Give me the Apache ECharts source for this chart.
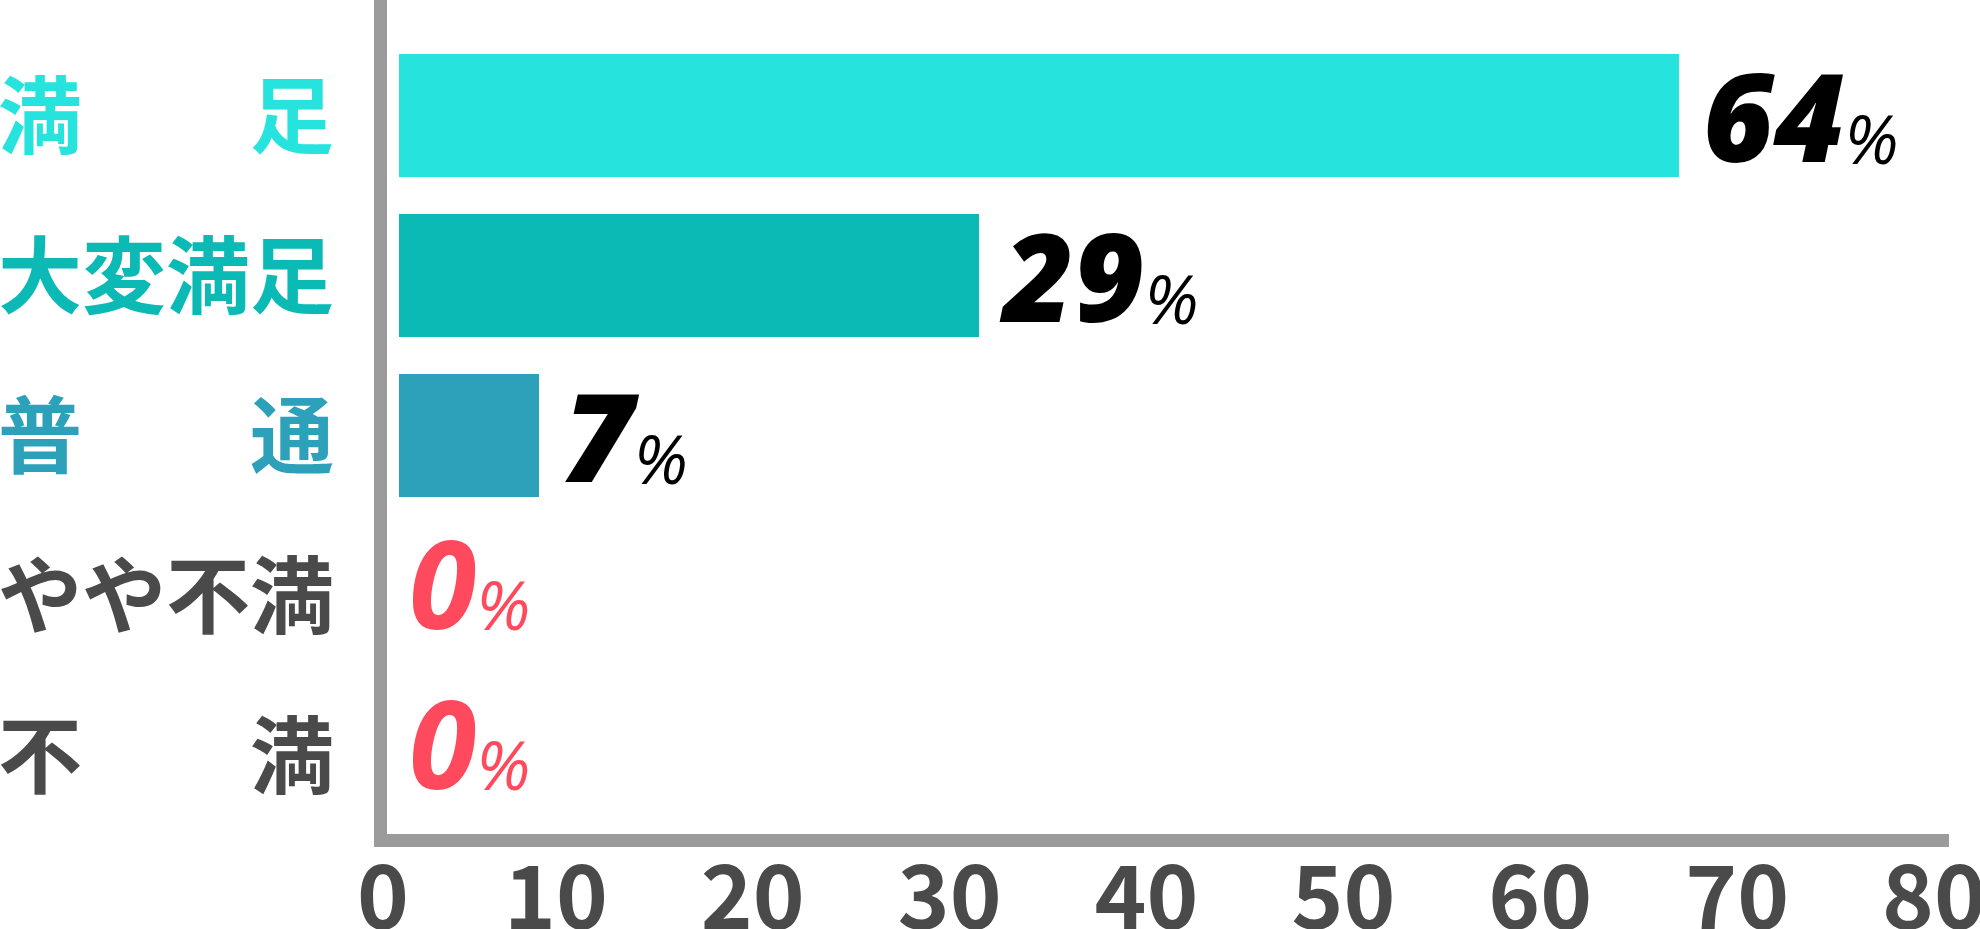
<!DOCTYPE html>
<html>
<head>
<meta charset="utf-8">
<script src="https://cdn.jsdelivr.net/npm/echarts@6/dist/echarts.min.js"></script>
<style>
html,body{margin:0;padding:0;background:#fff;}
#chart{width:1980px;height:929px;}
</style>
</head>
<body>
<div id="chart"></div>
<script>
// ---- data ----
const categories = ['満　　足', '大変満足', '普　　通', 'やや不満', '不　　満'];
const values = [64, 29, 7, 0, 0];
const xMin = 0, xMax = 80, xInterval = 10;

// ---- styles ----
const barColors = ['#26E3DD', '#0BBAB5', '#2DA0BA', '#4A4A4A', '#4A4A4A'];
const catColors = ['#26E3DD', '#0BBAB5', '#2DA0BA', '#4A4A4A', '#4A4A4A'];
const axisGrey = '#9B9B9B';
const tickColor = '#4A4A4A';
const zeroColor = '#FF4A5E';

const catRich = {};
catColors.forEach((c, i) => {
  catRich['c' + i] = { color: c, fontSize: 84, fontWeight: 'bold', fontFamily: 'Noto Sans CJK JP' };
});

const chart = echarts.init(document.getElementById('chart'), null, { renderer: 'canvas' });

const option = {
  backgroundColor: '#ffffff',
  animation: false,
  grid: [
    { left: 374, top: 0, width: 1575, height: 840, containLabel: false, outerBoundsMode: 'none' },
    { left: 399, top: 35.5, width: 1600, height: 800, containLabel: false, outerBoundsMode: 'none' }
  ],
  xAxis: [
    {
      gridIndex: 0, type: 'value', min: xMin, max: xMax, interval: xInterval,
      axisLine: { show: true, lineStyle: { color: axisGrey, width: 13, cap: 'butt' } },
      axisTick: { show: false },
      splitLine: { show: false },
      axisLabel: {
        margin: 12,
        formatter: v => v === 0 ? '{z|0}' : '{a|' + v + '}',
        rich: {
          a: { fontSize: 88, fontWeight: 'bold', color: tickColor, fontFamily: 'Noto Sans CJK JP', padding: [0, 30, 0, 0] },
          z: { fontSize: 88, fontWeight: 'bold', color: tickColor, fontFamily: 'Noto Sans CJK JP', padding: [0, 0, 0, 18] }
        }
      }
    },
    {
      gridIndex: 1, type: 'value', min: xMin, max: xMax, show: false,
      splitLine: { show: false }
    }
  ],
  yAxis: [
    {
      gridIndex: 0, type: 'value', min: 0, max: 1, offset: -6,
      axisLine: { show: true, lineStyle: { color: axisGrey, width: 13, cap: 'butt' } },
      axisTick: { show: false },
      axisLabel: { show: false },
      splitLine: { show: false }
    },
    {
      gridIndex: 1, type: 'category', inverse: true, data: categories,
      axisLine: { show: false },
      axisTick: { show: false },
      splitLine: { show: false },
      axisLabel: {
        margin: 65,
        formatter: (v, i) => '{c' + i + '|' + v + '}',
        rich: catRich
      }
    }
  ],
  series: [
    {
      type: 'bar',
      xAxisIndex: 1,
      yAxisIndex: 1,
      barWidth: 123,
      data: values.map((v, i) => ({
        value: v,
        itemStyle: { color: barColors[i] },
        label: v === 0 ? { distance: 10 } : { distance: 24 }
      })),
      label: {
        show: true,
        position: 'right',
        formatter: p => p.value === 0 ? '{zn|' + p.value + '}{zp|%}' : '{n|' + p.value + '}{p|%}',
        rich: {
          n: { fontSize: 122, fontWeight: 900, fontStyle: 'italic', color: '#000', fontFamily: 'Open Sans', lineHeight: 146, verticalAlign: 'bottom' },
          p: { fontSize: 68, fontWeight: 'normal', fontStyle: 'italic', color: '#000', fontFamily: 'Open Sans', lineHeight: 100, padding: [0, 0, 10, 0], verticalAlign: 'bottom' },
          zn: { fontSize: 122, fontWeight: 'bold', fontStyle: 'italic', color: zeroColor, fontFamily: 'Open Sans', lineHeight: 120, verticalAlign: 'bottom' },
          zp: { fontSize: 68, fontWeight: 'normal', fontStyle: 'italic', color: zeroColor, fontFamily: 'Open Sans', lineHeight: 100, padding: [0, 0, 11, 0], verticalAlign: 'bottom' }
        }
      }
    }
  ]
};
chart.setOption(option);
</script>
</body>
</html>
